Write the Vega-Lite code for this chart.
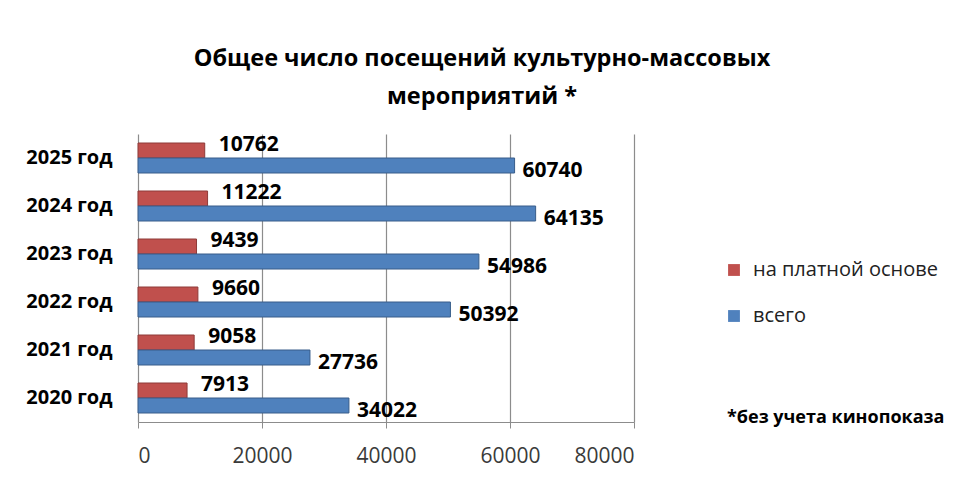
{
  "$schema": "https://vega.github.io/schema/vega-lite/v6.json",
  "autosize": {"type": "none"},
  "width": 496,
  "height": 288,
  "padding": {"left": 138, "top": 134, "right": 326, "bottom": 68},
  "background": "white",
  "title": {
    "text": ["Общее число посещений культурно-массовых", "мероприятий *"],
    "font": "Open Sans",
    "fontSize": 23.5,
    "fontWeight": "bold",
    "color": "#000000",
    "anchor": "middle",
    "dx": 96,
    "offset": 25,
    "lineHeight": 38
  },
  "datasets": {
    "bars": [
      {"year": "2025 год", "series": "на платной основе", "value": 10762},
      {"year": "2025 год", "series": "всего", "value": 60740},
      {"year": "2024 год", "series": "на платной основе", "value": 11222},
      {"year": "2024 год", "series": "всего", "value": 64135},
      {"year": "2023 год", "series": "на платной основе", "value": 9439},
      {"year": "2023 год", "series": "всего", "value": 54986},
      {"year": "2022 год", "series": "на платной основе", "value": 9660},
      {"year": "2022 год", "series": "всего", "value": 50392},
      {"year": "2021 год", "series": "на платной основе", "value": 9058},
      {"year": "2021 год", "series": "всего", "value": 27736},
      {"year": "2020 год", "series": "на платной основе", "value": 7913},
      {"year": "2020 год", "series": "всего", "value": 34022}
    ],
    "note": [{"text": "*без учета кинопоказа"}]
  },
  "config": {
    "view": {"stroke": null},
    "font": "Open Sans"
  },
  "layer": [
    {
      "data": {"name": "bars"},
      "mark": {"type": "bar", "strokeWidth": 1},
      "encoding": {
        "y": {
          "field": "year", "type": "nominal",
          "sort": ["2025 год", "2024 год", "2023 год", "2022 год", "2021 год", "2020 год"],
          "scale": {"paddingInner": 0.375, "paddingOuter": 0.1875},
          "axis": {
            "title": null, "domain": false, "ticks": false,
            "labelFont": "Open Sans", "labelFontSize": 20, "labelFontWeight": "bold",
            "labelColor": "#000000", "labelPadding": 26
          }
        },
        "yOffset": {
          "field": "series", "type": "nominal",
          "sort": ["на платной основе", "всего"]
        },
        "x": {
          "field": "value", "type": "quantitative",
          "scale": {"domain": [0, 80000], "nice": false},
          "axis": {
            "title": null, "values": [0, 20000, 40000, 60000, 80000],
            "format": "d", "grid": true, "gridColor": "#8c8c8c", "gridWidth": 1.2,
            "domainColor": "#8c8c8c", "domainWidth": 1.2, "tickColor": "#8c8c8c", "tickSize": 6,
            "labelFont": "Open Sans", "labelFontSize": 21, "labelColor": "#3a3a3a",
            "labelPadding": 17
          }
        },
        "color": {
          "field": "series", "type": "nominal",
          "scale": {"domain": ["на платной основе", "всего"], "range": ["#C0504D", "#4F81BD"]},
          "legend": {
            "title": null, "orient": "none", "legendX": 586, "legendY": 126,
            "symbolType": "square", "symbolSize": 140, "symbolStrokeWidth": 0,
            "labelFont": "Open Sans", "labelFontSize": 20, "labelColor": "#222222",
            "labelLimit": 400, "rowPadding": 26, "labelOffset": 9
          }
        },
        "stroke": {
          "field": "series", "type": "nominal",
          "scale": {"domain": ["на платной основе", "всего"], "range": ["#8E3A38", "#385D8A"]},
          "legend": null
        }
      }
    },
    {
      "data": {"name": "bars"},
      "transform": [{"filter": "datum.series === 'на платной основе'"}],
      "mark": {"type": "text", "align": "left", "baseline": "middle", "dx": 14, "dy": -6,
               "font": "Open Sans", "fontSize": 21, "fontWeight": "bold", "color": "#000000"},
      "encoding": {
        "y": {"field": "year", "type": "nominal", "sort": ["2025 год", "2024 год", "2023 год", "2022 год", "2021 год", "2020 год"]},
        "yOffset": {"field": "series", "type": "nominal", "sort": ["на платной основе", "всего"]},
        "x": {"field": "value", "type": "quantitative"},
        "text": {"field": "value", "type": "quantitative", "format": "d"}
      }
    },
    {
      "data": {"name": "bars"},
      "transform": [{"filter": "datum.series === 'всего'"}],
      "mark": {"type": "text", "align": "left", "baseline": "middle", "dx": 8, "dy": 5,
               "font": "Open Sans", "fontSize": 21, "fontWeight": "bold", "color": "#000000"},
      "encoding": {
        "y": {"field": "year", "type": "nominal", "sort": ["2025 год", "2024 год", "2023 год", "2022 год", "2021 год", "2020 год"]},
        "yOffset": {"field": "series", "type": "nominal", "sort": ["на платной основе", "всего"]},
        "x": {"field": "value", "type": "quantitative"},
        "text": {"field": "value", "type": "quantitative", "format": "d"}
      }
    },
    {
      "data": {"name": "note"},
      "mark": {"type": "text", "align": "left", "baseline": "middle", "dx": 93, "dy": 20,
               "font": "Open Sans", "fontSize": 18, "fontWeight": "bold", "color": "#000000"},
      "encoding": {
        "x": {"datum": 80000, "type": "quantitative"},
        "y": {"datum": "2020 год", "type": "nominal"},
        "text": {"field": "text"}
      }
    }
  ]
}
